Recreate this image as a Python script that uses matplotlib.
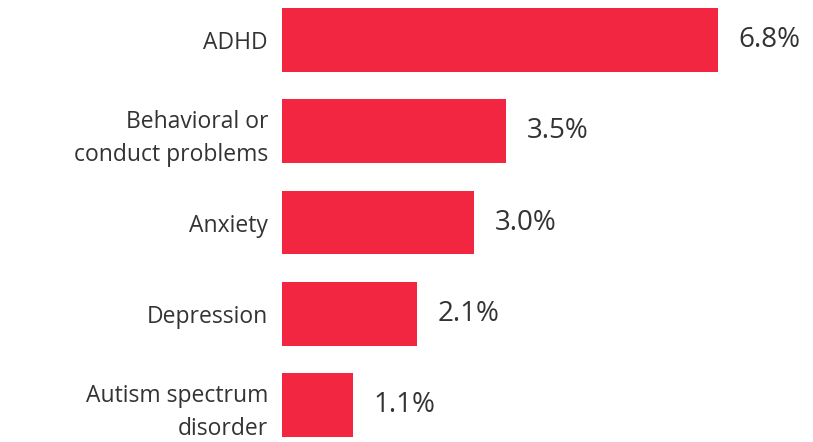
import matplotlib.pyplot as plt

categorias = ["ADHD", "Behavioral or\nconduct problems", "Anxiety", "Depression",
              "Autism spectrum\ndisorder"]
valores = [6.8, 3.5, 3.0, 2.1, 1.1]
etiquetas = ["6.8%", "3.5%", "3.0%", "2.1%", "1.1%"]

plt.rcParams['font.family'] = ['Open Sans', 'DejaVu Sans']

fig = plt.figure(figsize=(8.13, 4.42), dpi=100)
ax = fig.add_axes([282 / 813, 5 / 442, 531 / 813, 429 / 442])

pos = list(range(len(valores)))
ax.barh(pos, valores, height=0.7, color="#F22640")
ax.set_xlim(0, 531 / 64.12)
ax.set_ylim(len(valores) - 0.65, -0.35)

ax.set_yticks(pos)
ax.set_yticklabels(categorias, fontsize=16.5, color="#333333", linespacing=1.5)
ax.tick_params(axis="y", length=0, pad=10)
ax.set_xticks([])
for s in ax.spines.values():
    s.set_visible(False)

for p, v, t in zip(pos, valores, etiquetas):
    ax.annotate(t, (v, p), xytext=(15, 0), textcoords="offset points",
                va="center", ha="left", fontsize=20, color="#333333")

fig.savefig("out.png", dpi=100)
